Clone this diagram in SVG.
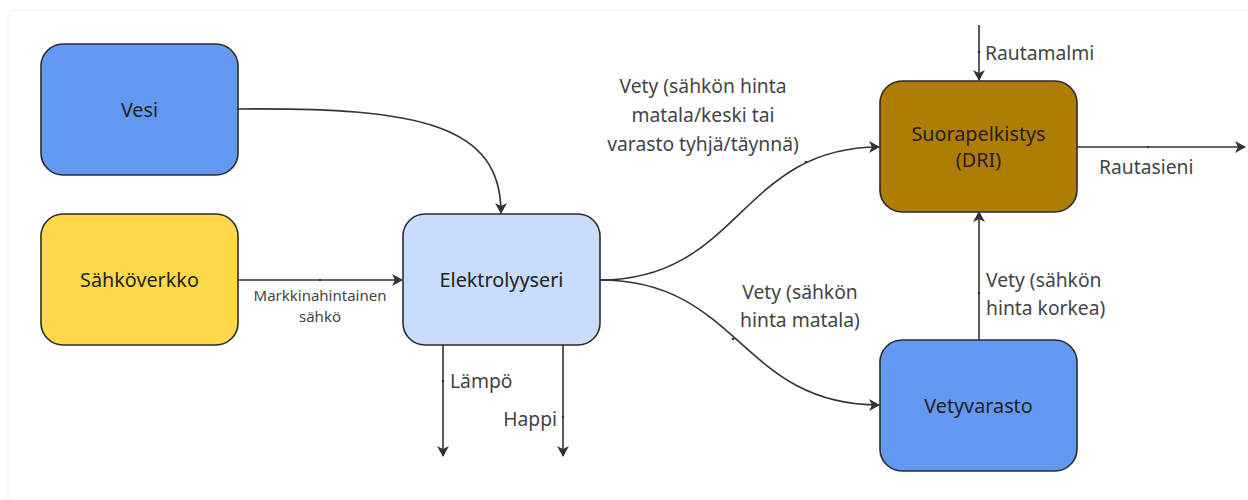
<svg xmlns="http://www.w3.org/2000/svg" width="1248" height="500" viewBox="0 0 1248 500">
<style>
.node{stroke:#2b2b2b;stroke-width:1.6}
.nt{font-family:"Noto Sans","Open Sans",sans-serif;font-size:19.8px;fill:#222;text-anchor:middle}
.el{fill:none;stroke:#333;stroke-width:1.6}
.lt{font-family:"Noto Sans","Open Sans",sans-serif;font-size:19.3px;fill:#444}
.ls{font-family:"Noto Sans","Open Sans",sans-serif;font-size:15px;fill:#444;text-anchor:middle}
.dot{fill:#333}
</style>
<defs>
<marker id="arr" viewBox="0 0 12 12" refX="10" refY="6" markerWidth="12" markerHeight="12" markerUnits="userSpaceOnUse" orient="auto">
<path d="M0,0 L11,6 L0,12 L3,6 Z" fill="#333"/>
</marker>
</defs>
<rect x="0" y="0" width="1248" height="500" fill="#fff"/>
<rect x="8" y="10" width="1260" height="500" rx="8" fill="#fff" stroke="#eee" stroke-width="1"/>
<g id="connectors">
<path class="el" d="M238,109 C420,107 501,125 501,213" marker-end="url(#arr)"/>
<path class="el" d="M238,280 L402,280" marker-end="url(#arr)"/>
<circle class="dot" cx="320" cy="280" r="1.3"/>
<path class="el" d="M443,345 L443,456" marker-end="url(#arr)"/>
<circle class="dot" cx="443" cy="381" r="1.3"/>
<path class="el" d="M563,345 L563,456" marker-end="url(#arr)"/>
<circle class="dot" cx="563" cy="417" r="1.3"/>
<path class="el" d="M600,280 C740,280 740,147 879,147" marker-end="url(#arr)"/>
<circle class="dot" cx="806" cy="162" r="1.3"/>
<path class="el" d="M600,280 C740,280 740,405 879,405" marker-end="url(#arr)"/>
<circle class="dot" cx="733" cy="339" r="1.3"/>
<path class="el" d="M979,340 L979,212" marker-end="url(#arr)"/>
<circle class="dot" cx="979" cy="293" r="1.3"/>
<path class="el" d="M979,25 L979,80" marker-end="url(#arr)"/>
<circle class="dot" cx="979" cy="52" r="1.3"/>
<path class="el" d="M1077,147 L1245,147" marker-end="url(#arr)"/>
<circle class="dot" cx="1148" cy="147" r="1.3"/>
<text class="ls" x="320" y="301">Markkinahintainen</text>
<text class="ls" x="320" y="322">sähkö</text>
<text class="lt" x="450" y="388">Lämpö</text>
<text class="lt" x="557" y="426" text-anchor="end">Happi</text>
<text class="lt" x="703" y="93" text-anchor="middle">Vety (sähkön hinta</text>
<text class="lt" x="703" y="122" text-anchor="middle">matala/keski tai</text>
<text class="lt" x="703" y="151" text-anchor="middle">varasto tyhjä/täynnä)</text>
<text class="lt" x="800" y="299" text-anchor="middle">Vety (sähkön</text>
<text class="lt" x="800" y="327" text-anchor="middle">hinta matala)</text>
<text class="lt" x="986" y="287">Vety (sähkön</text>
<text class="lt" x="986" y="315">hinta korkea)</text>
<text class="lt" x="985" y="60">Rautamalmi</text>
<text class="lt" x="1099" y="174">Rautasieni</text>
</g>
<g id="vesi">
<rect class="node" x="41" y="44" width="197" height="131" rx="22" fill="#6399f0"/>
<text class="nt" x="139.5" y="117">Vesi</text>
</g>
<g id="sahkoverkko">
<rect class="node" x="41" y="214" width="197" height="131" rx="22" fill="#ffd94a"/>
<text class="nt" x="139.5" y="287">Sähköverkko</text>
</g>
<g id="elektrolyyseri">
<rect class="node" x="403" y="214" width="197" height="131" rx="22" fill="#c8dcfd"/>
<text class="nt" x="501.5" y="287">Elektrolyyseri</text>
</g>
<g id="suorapelkistys">
<rect class="node" x="880" y="81" width="197" height="131" rx="22" fill="#b07d04"/>
<text class="nt" x="978.5" y="141">Suorapelkistys</text>
<text class="nt" x="978.5" y="167">(DRI)</text>
</g>
<g id="vetyvarasto">
<rect class="node" x="880" y="340" width="197" height="131" rx="22" fill="#6399f0"/>
<text class="nt" x="978.5" y="413">Vetyvarasto</text>
</g>
</svg>
